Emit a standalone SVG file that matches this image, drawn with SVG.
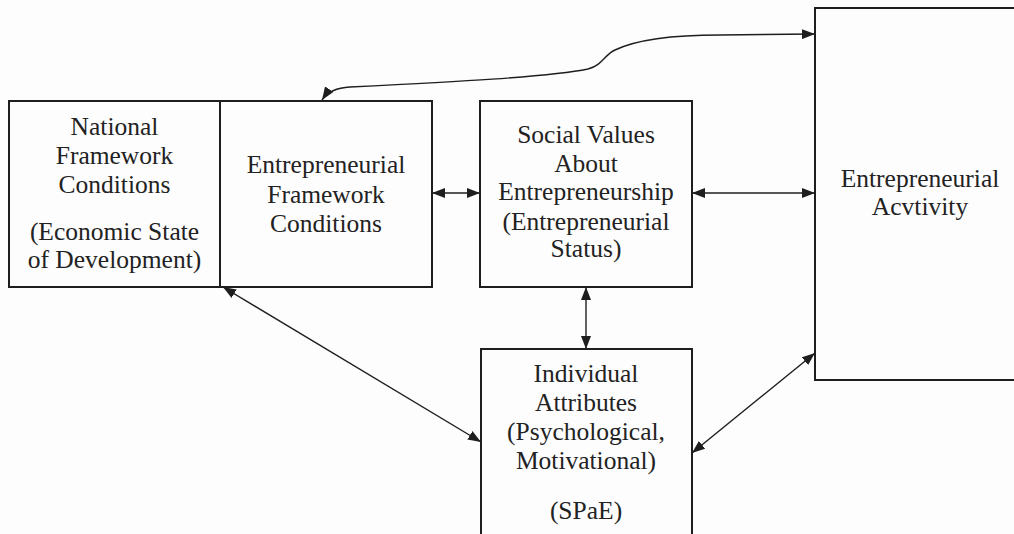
<svg xmlns="http://www.w3.org/2000/svg" width="1014" height="534" viewBox="0 0 1014 534">
<style>
.box{fill:none;stroke:#1e1e1e;stroke-width:2}
.t{font-size:25.5px;fill:#222;text-anchor:middle}
.c{fill:none;stroke:#1e1e1e;stroke-width:1.4;marker-start:url(#ah);marker-end:url(#ah)}
</style>
<defs>
<marker id="ah" markerUnits="userSpaceOnUse" markerWidth="13" markerHeight="10" refX="13" refY="5" orient="auto-start-reverse" viewBox="0 0 13 10">
<path d="M0,0 L13,5 L0,10 z" fill="#1e1e1e"/>
</marker>
</defs>
<rect width="1014" height="534" fill="#fdfdfd"/>
<g font-family="'Liberation Serif', 'Times New Roman', 'DejaVu Serif', serif">
<g id="national">
<rect class="box" x="9" y="101" width="211" height="186"/>
<text class="t" x="114.5" y="135">National</text>
<text class="t" x="114.5" y="164">Framework</text>
<text class="t" x="114.5" y="193">Conditions</text>
<text class="t" x="114.5" y="240">(Economic State</text>
<text class="t" x="114.5" y="268">of Development)</text>
</g>
<g id="efc">
<rect class="box" x="220" y="101" width="212" height="186"/>
<text class="t" x="326" y="173">Entrepreneurial</text>
<text class="t" x="326" y="203">Framework</text>
<text class="t" x="326" y="232">Conditions</text>
</g>
<g id="social">
<rect class="box" x="480" y="101" width="212" height="186"/>
<text class="t" x="586" y="143">Social Values</text>
<text class="t" x="586" y="172">About</text>
<text class="t" x="586" y="200">Entrepreneurship</text>
<text class="t" x="586" y="230">(Entrepreneurial</text>
<text class="t" x="586" y="257">Status)</text>
</g>
<g id="individual">
<rect class="box" x="481" y="349" width="211" height="200"/>
<text class="t" x="586" y="382">Individual</text>
<text class="t" x="586" y="411">Attributes</text>
<text class="t" x="586" y="440">(Psychological,</text>
<text class="t" x="586" y="469">Motivational)</text>
<text class="t" x="586" y="519">(SPaE)</text>
</g>
<g id="activity">
<rect class="box" x="815" y="8" width="220" height="372"/>
<text class="t" x="920" y="187">Entrepreneurial</text>
<text class="t" x="920" y="215">Acvtivity</text>
</g>
</g>
<g id="connectors">
<path class="c" d="M432,193 L480,193"/>
<path class="c" d="M692,193 L815,193"/>
<path class="c" d="M586,287 L586,349"/>
<path class="c" d="M223,287 L481,442"/>
<path class="c" d="M692,453 L815,353"/>
<path class="c" d="M322,100 Q330,88 350,87 C450,82 550,77 588,69 C603,65 604,55 615,50 C640,38 680,35 720,35 L815,34"/>
</g>
</svg>
